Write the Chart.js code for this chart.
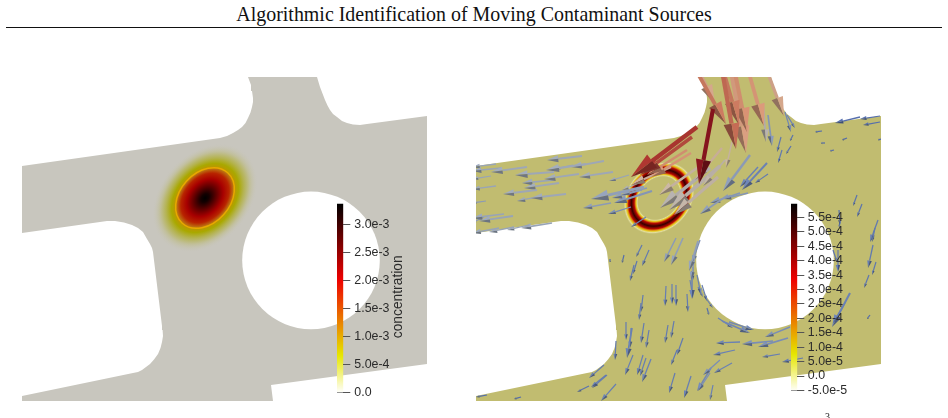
<!DOCTYPE html>
<html>
<head>
<meta charset="utf-8">
<title>Algorithmic Identification of Moving Contaminant Sources</title>
<script src="https://cdn.jsdelivr.net/npm/chart.js@4"></script>
<style>
	html, body { margin: 0; background: #fff; }
	body { position: relative; width: 948px; height: 418px; overflow: hidden; }
	canvas { position: absolute; }
	#testata { position: absolute; left: 0; top: 3px; width: 948px; text-align: center; font: 19.93px "Liberation Serif", serif; color: #111; white-space: nowrap; }
	#riga { position: absolute; left: 6px; top: 27px; width: 936px; height: 1px; background: #111; }
	#pagina { position: absolute; left: 825px; top: 411px; font: 10px "Liberation Serif", serif; color: #111; }
	#pannelloConc { left: 0; top: 0; }
	#pannelloVel { left: 454px; top: 0; }
	#barraConc { left: 337px; top: 190px; }
	#barraVel { left: 791px; top: 190px; }
</style>
</head>
<body>
<div id="testata">Algorithmic Identification of Moving Contaminant Sources</div>
<div id="riga"></div>
<canvas id="pannelloConc" width="474" height="418"></canvas>
<canvas id="pannelloVel" width="474" height="418"></canvas>
<canvas id="barraConc" width="100" height="218"></canvas>
<canvas id="barraVel" width="100" height="218"></canvas>
<div id="pagina">3</div>
<script>
// Outline of the channel junction, shared by both panels
const outlineX = [22, 220, 227, 233, 238, 242, 245.5, 248, 250.5, 252, 253, 253, 252, 251, 248, 317, 320, 325, 327.5, 330, 333, 337, 342, 347, 353, 360, 367, 427, 427, 271, 273, 22, 22, 133, 138, 142, 146, 150, 154, 158, 160.5, 162, 163, 162.6, 162, 153, 152, 150, 147, 143, 138, 132, 124, 115, 107, 22];
const outlineY = [166, 138, 136, 133, 130, 127, 123, 118, 112.5, 107, 102, 98, 91, 85, 77, 77, 87, 100, 105.5, 110, 114, 117, 121, 123, 124.5, 125, 124, 116, 364, 385, 401, 401, 396, 373, 372, 370, 367, 364, 359.5, 354, 348, 342, 336, 330, 326, 252, 248, 244, 239, 232, 228, 225, 222.5, 221, 221, 233];

// Circular obstacle: centre x, centre y, radius
const obstacle = [311, 260.4, 68.8];

// Source position and ellipse semi-axes
const sourceCentre = [205, 198];
const plumeAxes = [34, 25];
const ringAxes = [30.5, 25];
const tiltDegrees = -48;

// Colour bar of the concentration panel
const concTicks = [0, 5e-4, 1e-3, 1.5e-3, 2e-3, 2.5e-3, 3e-3];
const concLabels = ['0.0', '5.0e-4', '1.0e-3', '1.5e-3', '2.0e-3', '2.5e-3', '3.0e-3'];
const concRange = [0, 3.375e-3];

// Colour bar of the velocity panel
const velTicks = [-5e-5, 0, 5e-5, 1e-4, 1.5e-4, 2e-4, 2.5e-4, 3e-4, 3.5e-4, 4e-4, 4.5e-4, 5e-4, 5.5e-4];
const velLabels = ['-5.0e-5', '0.0', '5.0e-5', '1.0e-4', '1.5e-4', '2.0e-4', '2.5e-4', '3.0e-4', '3.5e-4', '4.0e-4', '4.5e-4', '5.0e-4', '5.5e-4'];
const velRange = [-5.5e-5, 5.97e-4];

// Velocity arrows: tail x, tail y, tip x, tip y, speed (0 to 1)
const westArrows = [
	[128,156,93,160,.36], [150,161,117,167,.36], [132,164,92,170,.36], [73,167,37,172,.36], [119,165,100,169,.34],
	[42,164,18,167,.34], [47,168,18,171,.34], [100,172,61,175,.36], [159,172,125,177,.36], [125,174,90,179,.36],
	[100,180,68,183,.34], [105,183,70,188,.36], [37,176,18,179,.34], [42,186,18,189,.34], [83,190,49,194,.36],
	[112,194,77,198,.36], [88,196,63,201,.34], [32,201,18,203,.3], [175,175,155,181,.34], [187,182,168,190,.38],
	[190,187,137,199,.32], [188,190,158,198,.3], [198,191,160,203,.28], [157,203,129,208,.3], [193,188,167,195,.3],
	[177,207,154,214,.24], [192,217,177,227,.2], [50,214,18,218,.34], [59,216,25,221,.34], [98,223,67,228,.34],
	[75,225,53,230,.34], [60,227,35,232,.34], [45,228,18,233,.34], [30,217,18,223,.3]
];
const inletArrows = [
	[243,127,177,177,.85], [238,137,186,175,.8], [233,150,193,175,.62], [237,153,197,177,.6], [217,167,177,185,.5],
	[243,168,205,195,.48], [256,168,206,208,.42], [266,166,215,210,.44], [264,177,220,215,.46], [268,148,241,180,.5],
	[271,160,249,186,.45], [238,63,272,124,.68], [235,50,261,104,.55], [268,70,282,149,.72], [264,53,285,125,.68],
	[277,70,292,153,.58], [278,58,293,132,.62], [291,59,310,126,.6], [309,60,330,116,.55], [259,109,245,184,1],
	[278,142,272,168,.48], [309,103,312,142,.42], [314,115,318,146,.28], [296,155,269,191,.3]
];
const upperArrows = [
	[304,167,286,187,.2], [313,163,288,190,.2], [314,174,301,183,.15], [327,137,323,152,.12], [328,150,324,163,.14],
	[337,146,332,154,.1], [339,135,336,141,.1], [331,112,337,132,.22], [333,115,341,128,.2], [274,195,246,214,.3],
	[294,193,269,199,.28], [286,193,256,203,.28]
];
const eastArrows = [
	[426,116,406,119,.06], [406,117,381,123,.06], [426,122,409,125,.06], [368,131,361,132,.04], [393,138,388,140,.04],
	[371,143,367,143,.04], [380,150,376,151,.04], [427,139,424,140,.04], [403,195,399,206,.1], [408,204,403,217,.1],
	[386,222,385,227,.08], [424,220,416,242,.14], [421,228,418,242,.14], [419,245,414,268,.14], [422,262,418,275,.12],
	[415,275,410,288,.12], [396,293,378,327,.2], [391,303,379,323,.2], [416,315,413,319,.06], [385,210,386,225,.08],
	[384,250,384,272,.12], [379,250,383,262,.1]
];
const lowerArrows = [
	[286,342,262,343,.2], [334,338,304,347,.25], [319,341,288,344,.25], [281,350,259,355,.2], [326,354,308,357,.18],
	[349,358,328,362,.14], [278,363,260,373,.2], [266,360,249,375,.25], [256,373,244,391,.25], [259,385,256,400,.2],
	[268,321,296,333,.22], [336,327,311,337,.25], [264,318,279,328,.2], [275,322,300,330,.22], [246,240,238,263,.25],
	[239,267,239,280,.2], [236,280,239,298,.2], [244,287,249,297,.2], [251,297,259,308,.18], [253,308,255,315,.08]
];
const southArrows = [
	[188,245,182,257,.14], [195,250,188,266,.15], [170,255,168,263,.06], [156,259,156,262,.04], [183,261,179,274,.12],
	[180,265,176,281,.14], [222,238,210,262,.3], [229,238,217,265,.32], [244,241,235,271,.32], [241,255,237,280,.3],
	[238,271,238,299,.2], [243,275,247,295,.2], [248,285,253,301,.18], [212,286,211,306,.18], [218,284,218,304,.18],
	[222,285,222,306,.18], [233,294,234,312,.16], [189,295,187,312,.15], [187,303,185,320,.15], [172,322,172,340,.16],
	[178,328,173,358,.18], [177,328,176,348,.2], [190,323,187,343,.16], [195,330,192,348,.16], [214,325,211,343,.15],
	[220,321,217,338,.15], [162,341,161,360,.16], [229,338,223,355,.15], [223,350,217,365,.15], [179,355,171,375,.18],
	[189,355,183,375,.18], [192,358,186,376,.18], [197,359,188,382,.2], [150,365,135,378,.15], [153,375,138,388,.16],
	[152,375,137,387,.16], [135,386,123,392,.1], [162,384,147,401,.18], [221,373,215,393,.16], [237,376,230,398,.18],
	[257,368,243,391,.22], [67,397,60,399,.04], [33,395,22,397,.05]
];

// Cool to warm colours of the arrows
const arrowStops = [[0, [74, 100, 165]], [.2, [104, 126, 176]], [.35, [152, 163, 180]], [.48, [192, 174, 156]], [.6, [208, 145, 115]], [.72, [186, 102, 80]], [.85, [165, 52, 46]], [1, [130, 20, 28]]];

function arrowColour(speed) {
	for (let i = 1; i < arrowStops.length; i++) {
		if (speed <= arrowStops[i][0]) {
			const a = arrowStops[i - 1], b = arrowStops[i];
			const t = (speed - a[0]) / (b[0] - a[0]);
			return a[1].map((c, k) => c + (b[1][k] - c) * t);
		}
	}
	return arrowStops[arrowStops.length - 1][1];
}

function tone(rgb, f) {
	return 'rgb(' + rgb.map(c => Math.min(255, Math.round(c * f))).join(',') + ')';
}

// Shaft and cone of one arrow, lit from one side
function drawArrow(ctx, x0, y0, x1, y1, speed) {
	const len = Math.hypot(x1 - x0, y1 - y0);
	if (len < 1) return;
	const ux = (x1 - x0) / len, uy = (y1 - y0) / len;
	const nx = -uy, ny = ux;
	const rgb = arrowColour(speed);
	const headLen = len * 0.32;
	const headW = Math.max(1.2, len * 0.1);
	const shaftW = Math.max(0.6, len * 0.027);
	const bx = x1 - ux * headLen, by = y1 - uy * headLen;

	ctx.beginPath();
	ctx.moveTo(x0 + nx * shaftW, y0 + ny * shaftW);
	ctx.lineTo(bx + nx * shaftW, by + ny * shaftW);
	ctx.lineTo(bx - nx * shaftW, by - ny * shaftW);
	ctx.lineTo(x0 - nx * shaftW, y0 - ny * shaftW);
	ctx.closePath();
	ctx.fillStyle = tone(rgb, 1.02);
	ctx.fill();

	ctx.beginPath();
	ctx.moveTo(x1, y1);
	ctx.lineTo(bx + nx * headW, by + ny * headW);
	ctx.lineTo(bx, by);
	ctx.closePath();
	ctx.fillStyle = tone(rgb, ny > 0 ? 0.72 : 1.06);
	ctx.fill();

	ctx.beginPath();
	ctx.moveTo(x1, y1);
	ctx.lineTo(bx - nx * headW, by - ny * headW);
	ctx.lineTo(bx, by);
	ctx.closePath();
	ctx.fillStyle = tone(rgb, ny > 0 ? 1.06 : 0.72);
	ctx.fill();
}

// Radial colour ramps in units of the ellipse semi-axes
const plumeRamp = [[0, '#000000'], [.14, '#140000'], [.4, '#640000'], [.62, '#a80000'], [.82, '#b82400'], [.95, '#bc6c10'], [1.03, '#b89a00'], [1.14, '#a9a800'], [1.32, '#b4b350'], [1.52, '#c1bf98'], [1.8, 'rgba(200,198,190,0)']];
const ringRamp = [[.74, 'rgba(193,188,112,0)'], [.79, '#e0dc98'], [.83, '#e6cc20'], [.86, '#dc7810'], [.9, '#b80800'], [1, '#380000'], [1.1, '#b80800'], [1.14, '#dc7810'], [1.18, '#e6cc20'], [1.23, '#e2dea0'], [1.29, 'rgba(193,188,112,0)']];

function drawEllipseField(ctx, pt, axes, ramp, contour) {
	const rMax = ramp[ramp.length - 1][0];
	ctx.save();
	ctx.translate(pt.x, pt.y);
	ctx.rotate(tiltDegrees * Math.PI / 180);
	ctx.scale(axes[0], axes[1]);
	const grad = ctx.createRadialGradient(0, 0, 0, 0, 0, rMax);
	grad.addColorStop(0, 'rgba(193,188,112,0)');
	ramp.forEach(s => grad.addColorStop(s[0] / rMax, s[1]));
	ctx.fillStyle = grad;
	ctx.beginPath();
	ctx.arc(0, 0, rMax, 0, Math.PI * 2);
	ctx.fill();
	if (contour) {
		ctx.beginPath();
		ctx.arc(0, 0, 1, 0, Math.PI * 2);
		ctx.restore();
		ctx.strokeStyle = contour;
		ctx.lineWidth = 1.5;
		ctx.stroke();
	} else {
		ctx.restore();
	}
}

// Draws the concentration fields and the arrows on top of the domain
const campoPlugin = {
	id: 'campo',
	afterDatasetsDraw(chart) {
		const ctx = chart.ctx;
		const xs = chart.scales.x, ys = chart.scales.y;
		ctx.save();
		ctx.beginPath();
		ctx.rect(xs.getPixelForValue(22), ys.getPixelForValue(77), xs.getPixelForValue(427) - xs.getPixelForValue(22), ys.getPixelForValue(401) - ys.getPixelForValue(77));
		ctx.clip();
		chart.data.datasets.forEach((ds, i) => {
			const punti = chart.getDatasetMeta(i).data;
			if (ds.glifo === 'plume') drawEllipseField(ctx, punti[0], plumeAxes, plumeRamp, '#e8a800');
			if (ds.glifo === 'ring') drawEllipseField(ctx, punti[0], ringAxes, ringRamp, null);
			if (ds.glifo === 'arrow') {
				punti.forEach((p, j) => {
					const r = ds.data[j];
					drawArrow(ctx, xs.getPixelForValue(r.tailX), ys.getPixelForValue(r.tailY), p.x, p.y, r.speed);
				});
			}
		});
		ctx.restore();
	}
};

function panelDatasets(backdrop, extra) {
	return [
		{
			data: outlineX.map((x, i) => ({ x: x, y: outlineY[i] })),
			showLine: true,
			fill: 'shape',
			backgroundColor: backdrop,
			borderWidth: 0,
			pointRadius: 0,
			tension: 0,
			order: 5
		},
		{
			type: 'bubble',
			data: [{ x: obstacle[0], y: obstacle[1], r: obstacle[2] }],
			backgroundColor: '#ffffff',
			borderWidth: 0,
			order: 4
		}
	].concat(extra);
}

function creaPannello(id, datasets) {
	return new Chart(document.getElementById(id), {
		type: 'scatter',
		data: { datasets: datasets },
		options: {
			responsive: false,
			animation: false,
			events: [],
			layout: { padding: 0, autoPadding: false },
			plugins: { legend: { display: false }, tooltip: { enabled: false }, title: { display: false } },
			scales: {
				x: { type: 'linear', min: 0, max: 474, display: false },
				y: { type: 'linear', min: 0, max: 418, reverse: true, display: false }
			}
		},
		plugins: [campoPlugin]
	});
}

const sourcePoint = [{ x: sourceCentre[0], y: sourceCentre[1] }];

creaPannello('pannelloConc', panelDatasets('#c8c6be', [
	{ data: sourcePoint, pointRadius: 0, glifo: 'plume', order: 3 }
]));

const tutteFrecce = [].concat(westArrows, upperArrows, eastArrows, lowerArrows, southArrows, inletArrows)
	.map(r => ({ x: r[2], y: r[3], tailX: r[0], tailY: r[1], speed: r[4] }))
	.sort((a, b) => a.speed - b.speed);

creaPannello('pannelloVel', panelDatasets('#c1bc70', [
	{ data: sourcePoint, pointRadius: 0, glifo: 'ring', order: 3 },
	{ data: tutteFrecce, pointRadius: 0, glifo: 'arrow', order: 2 }
]));

// Black body ramp, from white at the bottom of the bar to black at the top
const barRamp = [[0, '#ffffff'], [.2, '#e6e600'], [.6, '#ee0000'], [1, '#000000']];

function creaBarra(id, range, ticks, labels, scaleMin, scaleMax, barWidth, padding, extraPlugins) {
	return new Chart(document.getElementById(id), {
		type: 'bar',
		data: {
			labels: [''],
			datasets: [{
				data: [range],
				barPercentage: 1,
				categoryPercentage: 1,
				borderWidth: 0,
				backgroundColor: function (context) {
					const chart = context.chart;
					if (!chart.chartArea) return '#000';
					const y = chart.scales.y;
					const g = chart.ctx.createLinearGradient(0, y.getPixelForValue(range[0]), 0, y.getPixelForValue(range[1]));
					barRamp.forEach(s => g.addColorStop(s[0], s[1]));
					return g;
				}
			}]
		},
		options: {
			responsive: false,
			animation: false,
			events: [],
			layout: { padding: 0, autoPadding: false },
			plugins: { legend: { display: false }, tooltip: { enabled: false } },
			scales: {
				x: { display: false },
				y: {
					position: 'right',
					min: scaleMin,
					max: scaleMax,
					afterBuildTicks: function (scale) { scale.ticks = ticks.map(v => ({ value: v })); },
					afterFit: function (scale) {
						scale.width = 100 - barWidth;
						scale.paddingTop = 0;
						scale.paddingBottom = 0;
					},
					border: { display: false },
					grid: {
						z: 1,
						drawTicks: true,
						tickLength: 7,
						tickColor: '#555',
						color: ctx => ctx.index === 0 ? '#999' : 'rgba(0,0,0,0)'
					},
					ticks: {
						autoSkip: false,
						maxRotation: 0,
						padding: padding,
						color: '#2b2b2b',
						font: { family: '"Liberation Sans"', size: 12.4 },
						callback: (value, index) => labels[index]
					}
				}
			}
		},
		plugins: extraPlugins
	});
}

// Axis title reading bottom to top, right of the tick labels
const titoloBarra = {
	id: 'titoloBarra',
	afterDraw(chart) {
		const ctx = chart.ctx;
		ctx.save();
		ctx.translate(61, chart.scales.y.getPixelForValue(1.7e-3) - 1);
		ctx.rotate(-Math.PI / 2);
		ctx.font = '13.8px "Liberation Sans"';
		ctx.fillStyle = '#2b2b2b';
		ctx.textAlign = 'center';
		ctx.textBaseline = 'middle';
		ctx.fillText('concentration', 0, 0);
		ctx.restore();
	}
};

creaBarra('barraConc', concRange, concTicks, concLabels, -2.68e-4, 3.625e-3, 6.3, 4, [titoloBarra]);
creaBarra('barraVel', velRange, velTicks, velLabels, -1.111e-4, 6.458e-4, 6.3, 3.5, []);
</script>
</body>
</html>
